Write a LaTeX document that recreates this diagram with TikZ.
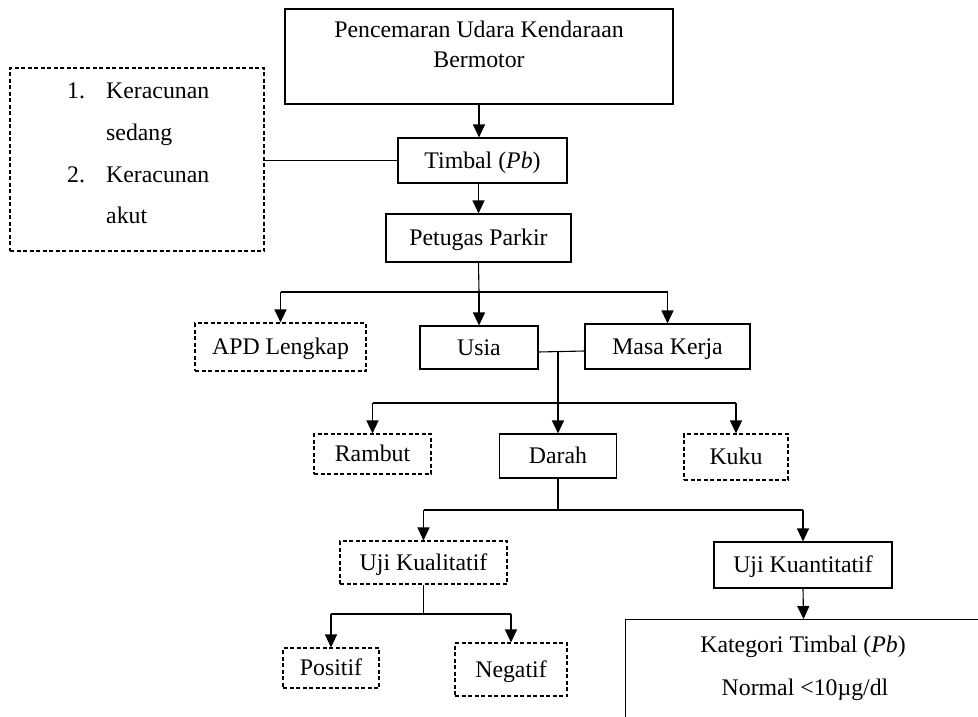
\documentclass[tikz,border=0pt]{standalone}
\usepackage{fontspec}
\setmainfont{Liberation Serif}
\usetikzlibrary{arrows.meta}
\begin{document}
\begin{tikzpicture}[x=1pt,y=-1pt,
  every node/.style={font=\fontsize{23.8}{28}\selectfont, inner sep=0pt, text height=16.8pt, text depth=1pt},
  box/.style={draw, line width=1.1pt, rectangle},
  dbox/.style={draw, line width=1.1pt, dash pattern=on 4pt off 2.5pt, rectangle},
  conn/.style={line width=1.1pt},
  arr/.style={line width=1.1pt, -{Triangle[width=12pt,length=13pt]}},
]
\useasboundingbox (0,0) rectangle (978,717);
\clip (0,0) rectangle (978,717);

% nodes
\node[box, minimum width=388pt, minimum height=95pt] (top) at (479,56.5) {};
\node[anchor=base] (topa) at (479,38) {Pencemaran Udara Kendaraan};
\node[anchor=base] (topb) at (479,68) {Bermotor};

\node[box, minimum width=169pt, minimum height=45pt] (timbal) at (482.5,160.5) {Timbal (\textit{Pb})};
\node[box, minimum width=185pt, minimum height=48pt] (petugas) at (478.5,238) {Petugas Parkir};

\node[dbox, minimum width=254pt, minimum height=183pt] (racun) at (137,159.5) {};
\node[anchor=base west] (n1) at (67,99) {1.};
\node[anchor=base west] (r1a) at (106,99) {Keracunan};
\node[anchor=base west] (r1b) at (106,140.5) {sedang};
\node[anchor=base west] (n2) at (67,182) {2.};
\node[anchor=base west] (r2a) at (106,182) {Keracunan};
\node[anchor=base west] (r2b) at (106,223.5) {akut};

\node[dbox, minimum width=171pt, minimum height=48pt] (apd) at (280.5,347) {APD Lengkap};
\node[box, minimum width=118pt, minimum height=43pt] (usia) at (479,347.5) {Usia};
\node[box, minimum width=165pt, minimum height=45pt] (masa) at (667.5,346.5) {Masa Kerja};

\node[dbox, minimum width=117pt, minimum height=40pt] (rambut) at (372.5,454) {Rambut};
\node[box, minimum width=117pt, minimum height=44pt] (darah) at (558,456) {Darah};
\node[dbox, minimum width=104pt, minimum height=46pt] (kuku) at (736,457) {Kuku};

\node[dbox, minimum width=167pt, minimum height=43pt] (kual) at (423.5,562.5) {Uji Kualitatif};
\node[box, minimum width=178pt, minimum height=46pt] (kuan) at (803,565) {Uji Kuantitatif};
\node[box, minimum width=356pt, minimum height=150pt, anchor=north west] (kat) at (625,619) {};
\node (kata) at (803,645) {Kategori Timbal (\textit{Pb})};
\node (katb) at (805,688) {Normal <10µg/dl};

\node[dbox, minimum width=96pt, minimum height=40pt] (pos) at (331,668) {Positif};
\node[dbox, minimum width=112pt, minimum height=53pt] (neg) at (511,669.5) {Negatif};

% coordinates
\coordinate (b1) at (479,292);
\coordinate (j1) at (558,352);
\coordinate (b2) at (558,403);
\coordinate (b3) at (558,510);
\coordinate (b4) at (423.5,614);

% connectors
\draw[arr] (top.south) -- (top.south |- timbal.north);
\draw[conn] (racun.east |- timbal.west) -- (timbal.west);
\draw[arr] (petugas.north |- timbal.south) -- (petugas.north);

\draw[conn] (petugas.south) -- (b1);
\draw[conn] (apd.north |- b1) -- (masa.north |- b1);
\draw[arr] (apd.north |- b1) -- (apd.north);
\draw[arr] (usia.north |- b1) -- (usia.north);
\draw[arr] (masa.north |- b1) -- (masa.north);

\draw[conn] ([yshift=-4.5pt]usia.east) -- ([yshift=-4.5pt]masa.west);
\draw[arr] (j1) -- (darah.north);
\draw[conn] (rambut.north |- b2) -- (kuku.north |- b2);
\draw[arr] (rambut.north |- b2) -- (rambut.north);
\draw[arr] (kuku.north |- b2) -- (kuku.north);

\draw[conn] (darah.south) -- (b3);
\draw[conn] (kual.north |- b3) -- (kuan.north |- b3);
\draw[arr] (kual.north |- b3) -- (kual.north);
\draw[arr] (kuan.north |- b3) -- (kuan.north);
\draw[arr] (kuan.south) -- (kat.north);

\draw[conn] (kual.south) -- (b4);
\draw[conn] (pos.north |- b4) -- (neg.north |- b4);
\draw[arr] (pos.north |- b4) -- (pos.north);
\draw[arr] (neg.north |- b4) -- (neg.north);
\end{tikzpicture}
\end{document}
